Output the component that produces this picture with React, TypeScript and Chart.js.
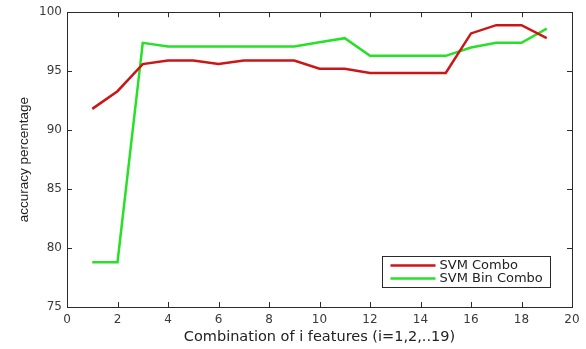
import React, { useEffect, useRef } from "react";
import { Chart, registerables } from "chart.js";

Chart.register(...registerables);

const featureCounts = [1, 2, 3, 4, 5, 6, 7, 8, 9, 10, 11, 12, 13, 14, 15, 16, 17, 18, 19];
const svmCombo = [91.8, 93.3, 95.6, 95.9, 95.9, 95.6, 95.9, 95.9, 95.9, 95.2, 95.2, 94.85, 94.85, 94.85, 94.85, 98.2, 98.9, 98.9, 97.8];
const svmBinCombo = [78.8, 78.8, 97.4, 97.1, 97.1, 97.1, 97.1, 97.1, 97.1, 97.45, 97.8, 96.3, 96.3, 96.3, 96.3, 97.0, 97.4, 97.4, 98.6];
const seriesNames = ["SVM Combo", "SVM Bin Combo"];
const seriesColors = ["#cc1515", "#28e028"];
const xTitle = "Combination of i features (i=1,2,..19)";
const yTitle = "accuracy percentage";

const frameColor = "#2b2b2b";
const tickColor = "#3a3a3a";

const boxPlugin = {
  id: "matlabBox",
  afterDraw(chart: any) {
    const { ctx, chartArea } = chart;
    const { left, right, top, bottom } = chartArea;
    ctx.save();
    ctx.strokeStyle = frameColor;
    ctx.lineWidth = 1;
    ctx.strokeRect(Math.round(left) + 0.5, Math.round(top) + 0.5, Math.round(right - left), Math.round(bottom - top));
    const xs = chart.scales.x;
    const ys = chart.scales.y;
    const len = 5;
    ctx.beginPath();
    xs.ticks.forEach((t: any) => {
      const px = Math.round(xs.getPixelForValue(t.value)) + 0.5;
      ctx.moveTo(px, bottom);
      ctx.lineTo(px, bottom - len);
      ctx.moveTo(px, top);
      ctx.lineTo(px, top + len);
    });
    ys.ticks.forEach((t: any) => {
      const py = Math.round(ys.getPixelForValue(t.value)) + 0.5;
      ctx.moveTo(left, py);
      ctx.lineTo(left + len, py);
      ctx.moveTo(right, py);
      ctx.lineTo(right - len, py);
    });
    ctx.stroke();

    // legend box in lower right
    const lw = 168;
    const lh = 31;
    const lx = Math.round(right - 22 - lw) + 0.5;
    const ly = Math.round(bottom - 20 - lh) + 0.5;
    ctx.fillStyle = "#ffffff";
    ctx.fillRect(lx, ly, lw, lh);
    ctx.strokeStyle = frameColor;
    ctx.strokeRect(lx, ly, lw, lh);
    ctx.font = "13px 'DejaVu Sans'";
    ctx.textBaseline = "middle";
    ctx.textAlign = "left";
    seriesNames.forEach((name, i) => {
      const cy = ly + 9 + i * 13;
      ctx.strokeStyle = seriesColors[i];
      ctx.lineWidth = 2.5;
      ctx.beginPath();
      ctx.moveTo(lx + 8, cy);
      ctx.lineTo(lx + 53, cy);
      ctx.stroke();
      ctx.fillStyle = "#222222";
      ctx.fillText(name, lx + 57, cy);
    });
    ctx.restore();
  },
};

export default function App() {
  const canvasRef = useRef<HTMLCanvasElement | null>(null);

  useEffect(() => {
    if (!canvasRef.current) return;
    const chart = new Chart(canvasRef.current, {
      type: "line",
      data: {
        datasets: [
          {
            label: seriesNames[0],
            data: featureCounts.map((x, i) => ({ x, y: svmCombo[i] })),
            borderColor: seriesColors[0],
            backgroundColor: seriesColors[0],
            borderWidth: 2.5,
            pointRadius: 0,
            tension: 0,
          },
          {
            label: seriesNames[1],
            data: featureCounts.map((x, i) => ({ x, y: svmBinCombo[i] })),
            borderColor: seriesColors[1],
            backgroundColor: seriesColors[1],
            borderWidth: 2.5,
            pointRadius: 0,
            tension: 0,
          },
        ],
      },
      options: {
        animation: false,
        responsive: true,
        maintainAspectRatio: false,
        layout: { padding: { left: 0, right: 14, top: 11, bottom: 0 } },
        plugins: {
          legend: { display: false },
          tooltip: { enabled: false },
        },
        scales: {
          x: {
            type: "linear",
            min: 0,
            max: 20,
            grid: { display: false, drawTicks: false },
            border: { display: false },
            ticks: {
              stepSize: 2,
              padding: 6,
              color: tickColor,
              font: { family: "'DejaVu Sans'", size: 12 },
              maxRotation: 0,
            },
            title: {
              display: true,
              text: xTitle,
              color: "#222222",
              font: { family: "'DejaVu Sans'", size: 14.5 },
              padding: { top: 3, bottom: 3 },
            },
            afterFit: (scale: any) => {
              scale.height = 42;
            },
          },
          y: {
            type: "linear",
            min: 75,
            max: 100,
            grid: { display: false, drawTicks: false },
            border: { display: false },
            ticks: {
              stepSize: 5,
              padding: 5,
              color: tickColor,
              font: { family: "'DejaVu Sans'", size: 12 },
            },
            title: {
              display: true,
              text: yTitle,
              color: "#222222",
              font: { family: "'Liberation Sans'", size: 13.5 },
              padding: { top: 16, bottom: 0 },
            },
            afterFit: (scale: any) => {
              scale.width = 67;
            },
          },
        },
      },
      plugins: [boxPlugin],
    });
    return () => chart.destroy();
  }, []);

  return (
    <div style={{ position: "fixed", left: 0, top: 0, width: 586, height: 349, background: "#ffffff" }}>
      <canvas ref={canvasRef} />
    </div>
  );
}
